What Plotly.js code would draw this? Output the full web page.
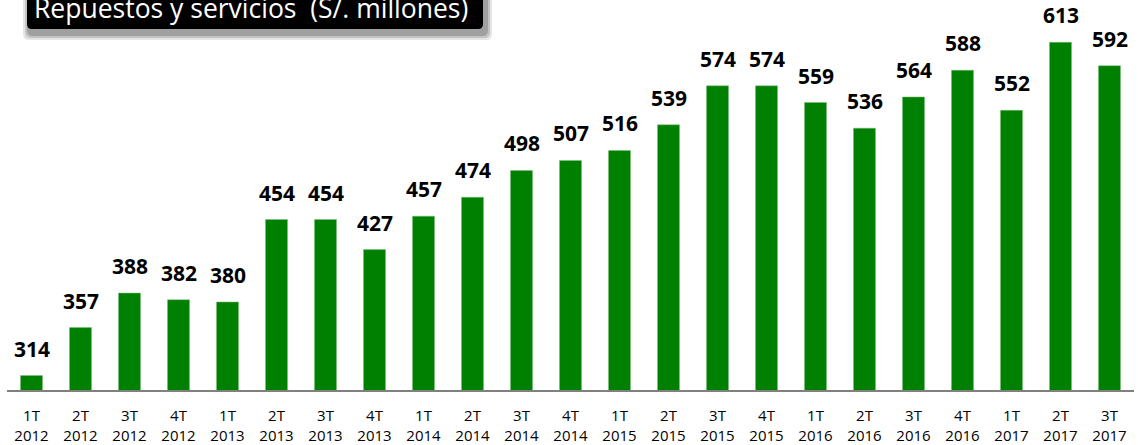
<!DOCTYPE html>
<html>
<head>
<meta charset="utf-8">
<script src="https://cdn.plot.ly/plotly-3.0.1.min.js"></script>
<style>html,body{margin:0;padding:0;background:#fff;}#chart{width:1138px;height:445px;}</style>
</head>
<body>
<div id="chart"></div>
<script>
const quarters = ["1T","2T","3T","4T","1T","2T","3T","4T","1T","2T","3T","4T","1T","2T","3T","4T","1T","2T","3T","4T","1T","2T","3T"];
const years = ["2012","2012","2012","2012","2013","2013","2013","2013","2014","2014","2014","2014","2015","2015","2015","2015","2016","2016","2016","2016","2017","2017","2017"];
const values = [314,357,388,382,380,454,454,427,457,474,498,507,516,539,574,574,559,536,564,588,552,613,592];
const titleText = "Repuestos y servicios  (S/. millones)";

const categories = quarters.map((q, i) => q + "<br>" + years[i]);

const W = 1138, H = 445, mL = 7, mR = 4, mT = 0, mB = 55;
const pw = W - mL - mR, ph = H - mT - mB;
const xp = px => (px - mL) / pw;
const yp = py => 1 - (py - mT) / ph;

function roundRect(x0, y0, x1, y1, r) {
  const X0 = xp(x0), X1 = xp(x1), Y0 = yp(y0), Y1 = yp(y1);
  const rx = r / pw, ry = r / ph;
  return `M ${X0 + rx} ${Y0} L ${X1 - rx} ${Y0} Q ${X1} ${Y0} ${X1} ${Y0 - ry} L ${X1} ${Y1 + ry} Q ${X1} ${Y1} ${X1 - rx} ${Y1} L ${X0 + rx} ${Y1} Q ${X0} ${Y1} ${X0} ${Y1 + ry} L ${X0} ${Y0 - ry} Q ${X0} ${Y0} ${X0 + rx} ${Y0} Z`;
}

const shapes = [];
// soft shadow
[[6, 0.10], [4, 0.14], [2, 0.18]].forEach(([g, op]) => {
  shapes.push({type: 'path', xref: 'paper', yref: 'paper', layer: 'above',
    path: roundRect(27 + 2 - g, -20, 483 + 3 + g, 29 + 5 + g, 6),
    fillcolor: 'rgba(0,0,0,' + op + ')', line: {width: 0}});
});
shapes.push({type: 'path', xref: 'paper', yref: 'paper', layer: 'above',
  path: roundRect(27, -20, 483, 29, 5), fillcolor: '#000000', line: {width: 0}});

const annotations = categories.map((c, i) => ({
  x: c, y: values[i], xref: 'x', yref: 'y', text: '<b>' + values[i] + '</b>',
  showarrow: false, yanchor: 'bottom', yshift: 11,
  font: {family: 'Open Sans, sans-serif', size: 21, color: '#000000'}
}));
annotations.push({
  xref: 'paper', yref: 'paper', x: xp(32), y: yp(8), xanchor: 'left', yanchor: 'middle',
  text: titleText, showarrow: false,
  font: {family: 'Open Sans, sans-serif', size: 26.5, color: '#ffffff'}
});

const trace = {
  type: 'bar', x: categories, y: values,
  marker: {color: '#008000', line: {color: '#7fbf7f', width: 0.5}},
  hoverinfo: 'none'
};

const layout = {
  width: W, height: H,
  margin: {l: mL, r: mR, t: mT, b: mB, pad: 0},
  paper_bgcolor: '#ffffff', plot_bgcolor: '#ffffff',
  showlegend: false,
  bargap: 0.55,
  xaxis: {
    type: 'category', showgrid: false, zeroline: false,
    showline: true, linecolor: '#808080', linewidth: 2,
    ticks: 'outside', ticklen: 11, tickcolor: 'rgba(0,0,0,0)',
    tickfont: {family: 'Open Sans, sans-serif', size: 15, color: '#000000'},
    fixedrange: true
  },
  yaxis: {
    range: [301, 651], visible: false, showgrid: false, zeroline: false, fixedrange: true
  },
  shapes: shapes,
  annotations: annotations
};

Plotly.newPlot('chart', [trace], layout, {displayModeBar: false, staticPlot: true});
</script>
</body>
</html>
